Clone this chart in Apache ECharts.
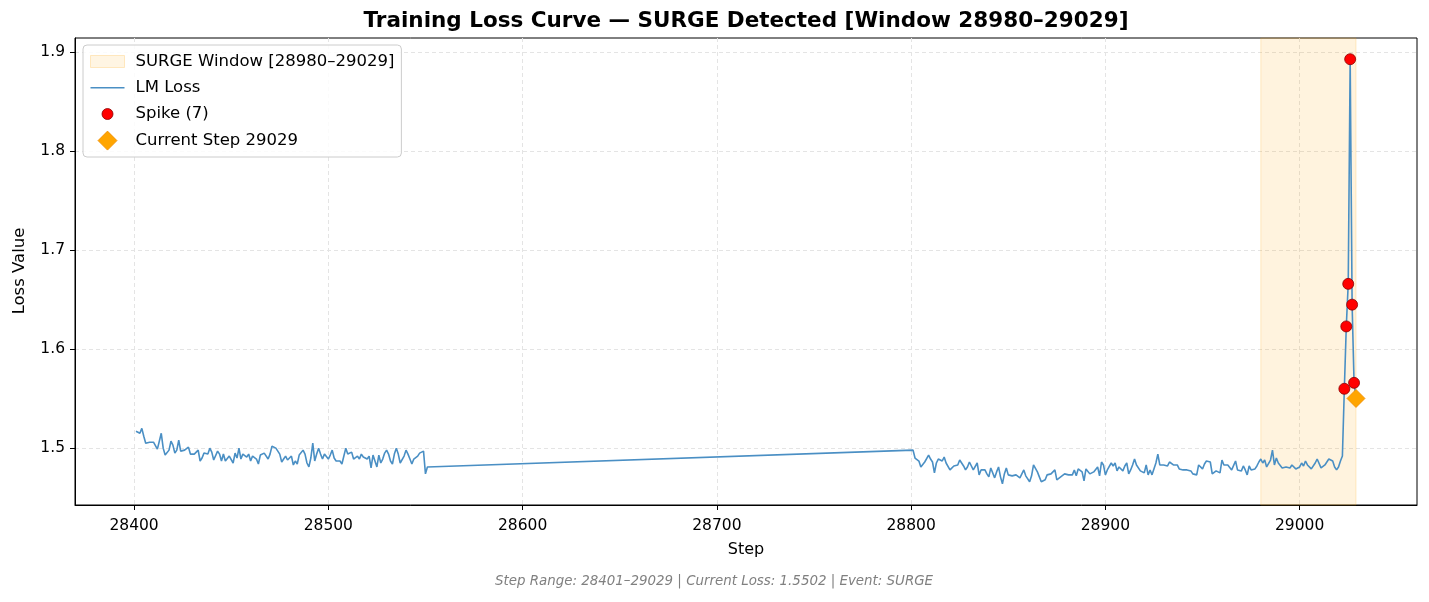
<!DOCTYPE html>
<html>
<head>
<meta charset="utf-8">
<title>Training Loss Curve</title>
<script src="https://cdn.jsdelivr.net/npm/echarts@6/dist/echarts.min.js"></script>
<style>
  html, body { margin: 0; padding: 0; background: #ffffff; }
  #chart { width: 1429px; height: 602px; }
</style>
</head>
<body>
<div id="chart"></div>
<script>
// ---- data ----
// first logged run: steps 28401..28551
var lossA = [
  1.517, 1.518, 1.515, 1.520, 1.512, 1.505, 1.503, 1.506, 1.508, 1.506,
  1.504, 1.499, 1.507, 1.515, 1.500, 1.493, 1.492, 1.498, 1.507, 1.503,
  1.495, 1.498, 1.508, 1.497, 1.498, 1.498, 1.497, 1.501, 1.494, 1.495,
  1.494, 1.494, 1.498, 1.487, 1.490, 1.495, 1.497, 1.494, 1.500, 1.496,
  1.488, 1.487, 1.497, 1.494, 1.487, 1.494, 1.487, 1.485, 1.492, 1.494,
  1.485, 1.495, 1.490, 1.500, 1.489, 1.494, 1.492, 1.491, 1.494, 1.487,
  1.492, 1.493, 1.489, 1.484, 1.493, 1.495, 1.495, 1.493, 1.489, 1.494,
  1.502, 1.503, 1.500, 1.500, 1.494, 1.486, 1.489, 1.492, 1.488, 1.490,
  1.492, 1.483, 1.487, 1.484, 1.493, 1.495, 1.498, 1.494, 1.485, 1.481,
  1.490, 1.505, 1.487, 1.494, 1.500, 1.494, 1.489, 1.494, 1.495, 1.489,
  1.493, 1.498, 1.490, 1.487, 1.489, 1.487, 1.484, 1.492, 1.500, 1.494,
  1.495, 1.496, 1.489, 1.488, 1.492, 1.489, 1.494, 1.491, 1.493, 1.489,
  1.492, 1.480, 1.493, 1.487, 1.481, 1.493, 1.485, 1.489, 1.495, 1.498,
  1.494, 1.487, 1.484, 1.494, 1.500, 1.494, 1.485, 1.485, 1.492, 1.498,
  1.494, 1.489, 1.484, 1.489, 1.490, 1.492, 1.495, 1.495, 1.497, 1.474,
  1.481
];
var startA = 28401;

// second logged run: steps 28801..29029
var lossB = [
  1.498, 1.490, 1.491, 1.487, 1.481, 1.481, 1.486, 1.486, 1.493, 1.489,
  1.486, 1.475, 1.485, 1.489, 1.491, 1.487, 1.491, 1.485, 1.487, 1.478,
  1.476, 1.482, 1.481, 1.483, 1.488, 1.487, 1.482, 1.478, 1.481, 1.486,
  1.485, 1.478, 1.480, 1.485, 1.473, 1.478, 1.478, 1.478, 1.474, 1.471,
  1.480, 1.478, 1.470, 1.476, 1.481, 1.471, 1.464, 1.474, 1.480, 1.473,
  1.475, 1.472, 1.472, 1.473, 1.472, 1.470, 1.471, 1.478, 1.472, 1.470,
  1.466, 1.472, 1.483, 1.482, 1.476, 1.471, 1.466, 1.464, 1.468, 1.473,
  1.475, 1.474, 1.476, 1.478, 1.468, 1.470, 1.471, 1.470, 1.474, 1.475,
  1.473, 1.475, 1.473, 1.478, 1.472, 1.479, 1.480, 1.476, 1.467, 1.479,
  1.477, 1.474, 1.474, 1.476, 1.474, 1.481, 1.472, 1.486, 1.483, 1.473,
  1.478, 1.478, 1.485, 1.482, 1.485, 1.477, 1.481, 1.483, 1.477, 1.482,
  1.485, 1.474, 1.478, 1.483, 1.489, 1.483, 1.483, 1.477, 1.479, 1.475,
  1.483, 1.473, 1.478, 1.473, 1.471, 1.485, 1.494, 1.483, 1.485, 1.483,
  1.485, 1.482, 1.486, 1.485, 1.483, 1.485, 1.483, 1.479, 1.478, 1.478,
  1.478, 1.478, 1.477, 1.477, 1.474, 1.472, 1.473, 1.483, 1.485, 1.479,
  1.484, 1.487, 1.485, 1.486, 1.474, 1.476, 1.477, 1.477, 1.475, 1.488,
  1.483, 1.481, 1.483, 1.482, 1.478, 1.477, 1.487, 1.478, 1.477, 1.477,
  1.482, 1.478, 1.473, 1.482, 1.478, 1.480, 1.479, 1.482, 1.486, 1.489,
  1.485, 1.488, 1.481, 1.483, 1.488, 1.498, 1.483, 1.490, 1.485, 1.483,
  1.480, 1.479, 1.481, 1.481, 1.480, 1.483, 1.485, 1.479, 1.479, 1.481,
  1.485, 1.482, 1.487, 1.483, 1.481, 1.479, 1.479, 1.485, 1.489, 1.489,
  1.480, 1.478, 1.483, 1.485, 1.489, 1.491, 1.487, 1.481, 1.478, 1.481,
  1.487, 1.492, 1.560, 1.623, 1.666, 1.893, 1.645, 1.566, 1.5502
];
var startB = 28801;

var spikeSteps = [29023, 29024, 29025, 29026, 29027, 29028, 29029];
var windowRange = [28980, 29029];
var currentStep = 29029;
var currentLoss = 1.5502;

var xTicks = [28400, 28500, 28600, 28700, 28800, 28900, 29000];
var yTicks = [1.5, 1.6, 1.7, 1.8, 1.9];

// ---- build series data ----
var lossPoints = [];
var lossByStep = {};
lossA.forEach(function (v, i) { lossPoints.push([startA + i, v]); lossByStep[startA + i] = v; });
lossB.forEach(function (v, i) { lossPoints.push([startB + i, v]); lossByStep[startB + i] = v; });

var spikePoints = spikeSteps.map(function (s) { return [s, lossByStep[s]]; });

// axis range with matplotlib-like 5% margins
var xLo = startA, xHi = startB + lossB.length - 1;
var xPad = (xHi - xLo) * 0.05;
var yLo = Math.min.apply(null, lossA.concat(lossB));
var yHi = Math.max.apply(null, lossA.concat(lossB));
var yPad = (yHi - yLo) * 0.05;

var FONT = '"DejaVu Sans", "Liberation Sans", sans-serif';
var LINE_COLOR = '#4a8fc4';
var windowName = 'SURGE Window [' + windowRange[0] + '–' + windowRange[1] + ']';
var spikeName = 'Spike (' + spikeSteps.length + ')';
var currentName = 'Current Step ' + currentStep;

// legend icons: the two zero-length subpaths pin every icon's box to 34x20,
// so the marks inside keep their own proportions
var BOX = 'M0,0 L0,0 Z M34,20 L34,20 Z ';
var ICON_RECT = 'path://' + BOX + 'M0,4 L34,4 L34,16 L0,16 Z';
var ICON_LINE = 'path://' + BOX + 'M0,9.3 L34,9.3 L34,10.7 L0,10.7 Z';
var ICON_DOT = 'path://' + BOX + 'M11.5,10 A5.5,5.5 0 1 0 22.5,10 A5.5,5.5 0 1 0 11.5,10 Z';
var ICON_DIAMOND = 'path://' + BOX + 'M7.5,10 L17,0.5 L26.5,10 L17,19.5 Z';

var chart = echarts.init(document.getElementById('chart'));

var option = {
  animation: false,
  backgroundColor: '#ffffff',
  grid: {
    left: 75, right: 12, top: 38, bottom: 97,
    show: true, borderColor: '#000000', borderWidth: 1, backgroundColor: '#ffffff'
  },
  xAxis: {
    type: 'value',
    min: xLo - xPad,
    max: xHi + xPad,
    axisLine: { show: true, lineStyle: { color: '#000000', width: 1 } },
    axisTick: { show: true, length: 5, customValues: xTicks, lineStyle: { color: '#000000' } },
    axisLabel: {
      customValues: xTicks, margin: 13,
      color: '#000000', fontSize: 15.5, fontFamily: FONT,
      formatter: function (v) { return String(v); }
    },
    splitLine: { show: true, lineStyle: { color: '#e4e4e4', type: [4, 3], width: 1 } }
  },
  yAxis: {
    type: 'value',
    min: yLo - yPad,
    max: yHi + yPad,
    axisLine: { show: true, lineStyle: { color: '#000000', width: 1 } },
    axisTick: { show: true, length: 5, customValues: yTicks, lineStyle: { color: '#000000' } },
    axisLabel: {
      customValues: yTicks, margin: 10,
      color: '#000000', fontSize: 15.5, fontFamily: FONT,
      formatter: function (v) { return v.toFixed(1); }
    },
    splitLine: { show: true, lineStyle: { color: '#e4e4e4', type: [4, 3], width: 1 } }
  },
  legend: {
    orient: 'vertical',
    left: 83, top: 45,
    itemWidth: 34, itemHeight: 20, itemGap: 5.8,
    padding: [6, 7, 6, 7],
    backgroundColor: 'rgba(255,255,255,0.85)',
    borderColor: '#cccccc', borderWidth: 1, borderRadius: 4,
    textStyle: { fontSize: 16.5, fontFamily: FONT, color: '#000000', padding: [0, 0, 0, 6] },
    data: [
      { name: windowName, icon: ICON_RECT,
        itemStyle: { color: '#fff2dc', borderColor: '#ffe2b0', borderWidth: 1 } },
      { name: 'LM Loss', icon: ICON_LINE, itemStyle: { color: LINE_COLOR, borderWidth: 0 } },
      { name: spikeName, icon: ICON_DOT, itemStyle: { color: '#ff0000', borderColor: '#8b0000', borderWidth: 0.8 } },
      { name: currentName, icon: ICON_DIAMOND, itemStyle: { color: '#ffa500', borderColor: '#f08c00', borderWidth: 0.8 } }
    ]
  },
  graphic: [
    { type: 'text', x: 746, y: 21, style: {
        text: 'Training Loss Curve — SURGE Detected [Window ' + windowRange[0] + '–' + windowRange[1] + ']',
        font: 'bold 21.5px ' + FONT, fill: '#000000',
        textAlign: 'center', textVerticalAlign: 'middle' } },
    { type: 'text', x: 746, y: 550, style: {
        text: 'Step', font: '16px ' + FONT, fill: '#000000',
        textAlign: 'center', textVerticalAlign: 'middle' } },
    { type: 'text', x: 20, y: 271, rotation: Math.PI / 2, style: {
        text: 'Loss Value', font: '16.5px ' + FONT, fill: '#000000',
        textAlign: 'center', textVerticalAlign: 'middle' } },
    { type: 'text', x: 714, y: 582, style: {
        text: 'Step Range: ' + startA + '–' + currentStep + ' | Current Loss: ' + currentLoss.toFixed(4) + ' | Event: SURGE',
        font: 'italic 13.4px ' + FONT, fill: '#808080',
        textAlign: 'center', textVerticalAlign: 'middle' } }
  ],
  series: [
    {
      name: windowName,
      type: 'scatter',
      data: [],
      itemStyle: { color: '#fff2dc' },
      markArea: {
        silent: true,
        itemStyle: { color: 'rgba(255,165,0,0.13)', borderColor: 'rgba(255,165,0,0.2)', borderWidth: 1 },
        data: [[{ xAxis: windowRange[0] }, { xAxis: windowRange[1] }]]
      },
      z: 1
    },
    {
      name: 'LM Loss',
      type: 'line',
      data: lossPoints,
      symbol: 'none',
      lineStyle: { color: LINE_COLOR, width: 1.6 },
      itemStyle: { color: LINE_COLOR },
      z: 3
    },
    {
      name: spikeName,
      type: 'scatter',
      data: spikePoints,
      symbolSize: 11,
      itemStyle: { color: '#ff0000', borderColor: '#8b0000', borderWidth: 0.8, opacity: 1 },
      z: 4
    },
    {
      name: currentName,
      type: 'scatter',
      data: [[currentStep, currentLoss]],
      symbol: 'diamond',
      symbolSize: 18,
      itemStyle: { color: '#ffa500', borderColor: '#f08c00', borderWidth: 0.8, opacity: 1 },
      z: 5
    }
  ]
};

chart.setOption(option);
</script>
</body>
</html>
